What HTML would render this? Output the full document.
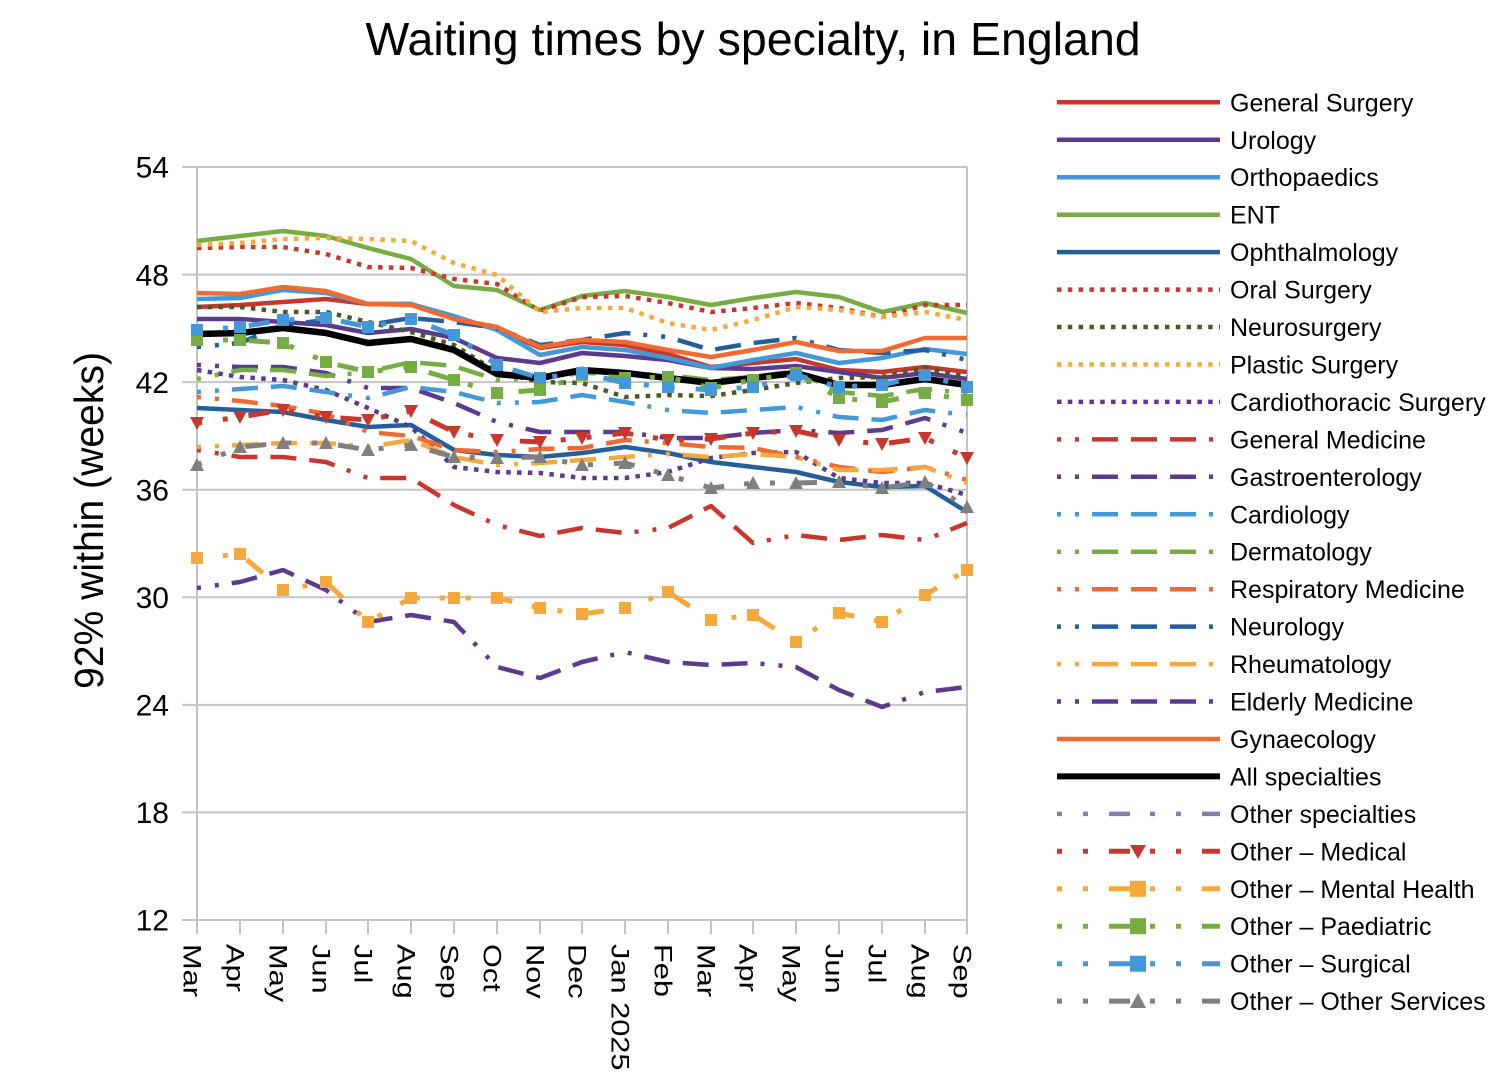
<!DOCTYPE html>
<html><head><meta charset="utf-8"><style>
html,body{margin:0;padding:0;background:#fff;}
svg{display:block;font-family:"Liberation Sans",Arial,sans-serif;}
</style></head><body>
<svg width="1508" height="1084" viewBox="0 0 1508 1084" xmlns="http://www.w3.org/2000/svg">
<rect width="1508" height="1084" fill="#fff"/>
<text x="753" y="55" font-size="46.5" text-anchor="middle" fill="#000">Waiting times by specialty, in England</text>

<!-- grid -->
<g stroke="#c4c4c4" stroke-width="2" fill="none">
<line x1="182" y1="167" x2="967" y2="167"/>
<line x1="182" y1="274.6" x2="967" y2="274.6"/>
<line x1="182" y1="382.1" x2="967" y2="382.1"/>
<line x1="182" y1="489.7" x2="967" y2="489.7"/>
<line x1="182" y1="597.3" x2="967" y2="597.3"/>
<line x1="182" y1="704.9" x2="967" y2="704.9"/>
<line x1="182" y1="812.4" x2="967" y2="812.4"/>
<line x1="182" y1="920" x2="967" y2="920"/>
<line x1="197" y1="167" x2="197" y2="934"/>
<line x1="967" y1="167" x2="967" y2="934"/>
<line x1="240" y1="920" x2="240" y2="934"/><line x1="283" y1="920" x2="283" y2="934"/>
<line x1="326" y1="920" x2="326" y2="934"/><line x1="368" y1="920" x2="368" y2="934"/>
<line x1="411" y1="920" x2="411" y2="934"/><line x1="454" y1="920" x2="454" y2="934"/>
<line x1="497" y1="920" x2="497" y2="934"/><line x1="540" y1="920" x2="540" y2="934"/>
<line x1="582" y1="920" x2="582" y2="934"/><line x1="625" y1="920" x2="625" y2="934"/>
<line x1="668" y1="920" x2="668" y2="934"/><line x1="711" y1="920" x2="711" y2="934"/>
<line x1="753" y1="920" x2="753" y2="934"/><line x1="796" y1="920" x2="796" y2="934"/>
<line x1="839" y1="920" x2="839" y2="934"/><line x1="882" y1="920" x2="882" y2="934"/>
<line x1="925" y1="920" x2="925" y2="934"/>
</g>

<!-- y labels -->
<g font-size="30" text-anchor="end" fill="#000">
<text x="169" y="177.7">54</text>
<text x="169" y="285.3">48</text>
<text x="169" y="392.8">42</text>
<text x="169" y="500.4">36</text>
<text x="169" y="608">30</text>
<text x="169" y="715.6">24</text>
<text x="169" y="823.1">18</text>
<text x="169" y="930.7">12</text>
</g>
<text transform="translate(103,689) rotate(-90)" font-size="41" textLength="337" lengthAdjust="spacingAndGlyphs" fill="#000">92% within (weeks)</text>

<!-- x labels -->
<g font-size="25" fill="#000">
<text transform="translate(183.5,944) rotate(90) scale(1.23,1)">Mar</text>
<text transform="translate(226.5,944) rotate(90) scale(1.23,1)">Apr</text>
<text transform="translate(269.5,944) rotate(90) scale(1.23,1)">May</text>
<text transform="translate(312.5,944) rotate(90) scale(1.23,1)">Jun</text>
<text transform="translate(354.5,944) rotate(90) scale(1.23,1)">Jul</text>
<text transform="translate(397.5,944) rotate(90) scale(1.23,1)">Aug</text>
<text transform="translate(440.5,944) rotate(90) scale(1.23,1)">Sep</text>
<text transform="translate(483.5,944) rotate(90) scale(1.23,1)">Oct</text>
<text transform="translate(526.5,944) rotate(90) scale(1.23,1)">Nov</text>
<text transform="translate(568.5,944) rotate(90) scale(1.23,1)">Dec</text>
<text transform="translate(611.5,944) rotate(90) scale(1.23,1)">Jan 2025</text>
<text transform="translate(654.5,944) rotate(90) scale(1.23,1)">Feb</text>
<text transform="translate(697.5,944) rotate(90) scale(1.23,1)">Mar</text>
<text transform="translate(739.5,944) rotate(90) scale(1.23,1)">Apr</text>
<text transform="translate(782.5,944) rotate(90) scale(1.23,1)">May</text>
<text transform="translate(825.5,944) rotate(90) scale(1.23,1)">Jun</text>
<text transform="translate(868.5,944) rotate(90) scale(1.23,1)">Jul</text>
<text transform="translate(911.5,944) rotate(90) scale(1.23,1)">Aug</text>
<text transform="translate(953.5,944) rotate(90) scale(1.23,1)">Sep</text>
</g>

<!-- series -->
<g fill="none" stroke-linejoin="round">
<!-- General Surgery -->
<polyline stroke="#c8372d" stroke-width="4.5" points="197,307 240,305 283,302 326,299 368,304 411,304 454,319 497,329 540,348 582,342 625,345 668,354 711,367 753,363 796,359 839,370 882,372 925,367 967,372"/>
<!-- Urology -->
<polyline stroke="#5c3a8e" stroke-width="4.5" points="197,319 240,319 283,322 326,325 368,333 411,329 454,338 497,358 540,363 582,353 625,356 668,360 711,368 753,369 796,366 839,372 882,378 925,373 967,379"/>
<!-- Orthopaedics -->
<polyline stroke="#4399d8" stroke-width="4.5" points="197,299 240,298 283,290 326,293 368,304 411,304 454,316 497,330 540,355 582,347 625,350 668,358 711,368 753,360 796,353 839,363 882,358 925,349 967,354"/>
<!-- ENT -->
<polyline stroke="#76ac41" stroke-width="4.5" points="197,241 240,236 283,231 326,236 368,248 411,259 454,286 497,290 540,310 582,296 625,291 668,297 711,305 753,298 796,292 839,297 882,312 925,303 967,313"/>
<!-- Ophthalmology -->
<polyline stroke="#245e9b" stroke-width="4.5" points="197,408 240,410 283,412 326,420 368,427 411,425 454,450 497,455 540,457 582,453 625,447 668,453 711,462 753,467 796,472 839,482 882,487 925,486 967,512"/>
<!-- Oral Surgery -->
<polyline stroke="#c8372d" stroke-width="4.5" stroke-dasharray="4.5 6.3" points="197,248 240,247 283,247 326,254 368,267 411,268 454,279 497,284 540,311 582,297 625,296 668,303 711,312 753,308 796,303 839,308 882,317 925,305 967,305"/>
<!-- Neurosurgery -->
<polyline stroke="#4b5a22" stroke-width="4.5" stroke-dasharray="4.5 6.3" points="197,307 240,307 283,312 326,312 368,322 411,332 454,345 497,372 540,382 582,383 625,397 668,395 711,396 753,390 796,383 839,378 882,377 925,368 967,377"/>
<!-- Plastic Surgery -->
<polyline stroke="#f5a83b" stroke-width="4.5" stroke-dasharray="4.5 6.3" points="197,245 240,243 283,239 326,238 368,239 411,241 454,263 497,275 540,312 582,308 625,308 668,323 711,330 753,320 796,307 839,310 882,317 925,312 967,320"/>
<!-- Cardiothoracic -->
<polyline stroke="#5c3a8e" stroke-width="4.5" stroke-dasharray="4.5 6.3" points="197,370 240,377 283,380 326,390 368,408 411,427 454,467 497,472 540,473 582,478 625,478 668,472 711,458 753,453 796,452 839,478 882,483 925,483 967,495"/>
<!-- General Medicine -->
<polyline stroke="#c8372d" stroke-width="4.5" stroke-dasharray="4 14 4 13 26 13 26 13 26 13" points="197,450 240,457 283,457 326,462 368,478 411,478 454,505 497,525 540,536 582,528 625,533 668,528 711,506 753,543 796,535 839,540 882,535 925,540 967,523"/>
<!-- Gastroenterology -->
<polyline stroke="#5c3a8e" stroke-width="4.5" stroke-dasharray="4 14 4 13 26 13 26 13 26 13" points="197,365 240,367 283,367 326,373 368,388 411,388 454,403 497,422 540,432 582,432 625,432 668,438 711,438 753,433 796,430 839,433 882,430 925,418 967,433"/>
<!-- Cardiology -->
<polyline stroke="#4399d8" stroke-width="4.5" stroke-dasharray="4 14 4 13 26 13 26 13 26 13" points="197,392 240,389 283,386 326,392 368,398 411,387 454,392 497,403 540,402 582,395 625,402 668,410 711,413 753,410 796,407 839,417 882,420 925,410 967,415"/>
<!-- Dermatology -->
<polyline stroke="#76ac41" stroke-width="4.5" stroke-dasharray="4 14 4 13 26 13 26 13 26 13" points="197,379 240,370 283,370 326,376 368,372 411,362 454,366 497,380 540,378 582,373 625,374 668,375 711,380 753,377 796,371 839,392 882,396 925,389 967,393"/>
<!-- Respiratory -->
<polyline stroke="#ee6a34" stroke-width="4.5" stroke-dasharray="4 14 4 13 26 13 26 13 26 13" points="197,397 240,401 283,406 326,414 368,432 411,436 454,450 497,452 540,449 582,448 625,440 668,443 711,447 753,448 796,457 839,467 882,472 925,467 967,480"/>
<!-- Neurology -->
<polyline stroke="#245e9b" stroke-width="4.5" stroke-dasharray="4 14 4 13 26 13 26 13 26 13" points="197,347 240,343 283,325 326,320 368,325 411,318 454,322 497,328 540,345 582,340 625,333 668,337 711,350 753,343 796,338 839,350 882,353 925,350 967,360"/>
<!-- Rheumatology -->
<polyline stroke="#f5a83b" stroke-width="4.5" stroke-dasharray="4 14 4 13 26 13 26 13 26 13" points="197,447 240,445 283,443 326,443 368,447 411,440 454,457 497,465 540,463 582,460 625,457 668,454 711,457 753,454 796,457 839,470 882,470 925,467 967,483"/>
<!-- Elderly -->
<polyline stroke="#5c3a8e" stroke-width="4.5" stroke-dasharray="4 14 4 13 26 13 26 13 26 13" points="197,588 240,582 283,570 326,590 368,622 411,615 454,622 497,667 540,678 582,662 625,652 668,662 711,665 753,663 796,667 839,690 882,707 925,692 967,687"/>
<!-- Gynaecology -->
<polyline stroke="#f06a32" stroke-width="4.5" points="197,293 240,294 283,287 326,291 368,304 411,305 454,319 497,327 540,347 582,340 625,342 668,350 711,357 753,350 796,342 839,351 882,351 925,338 967,338"/>
<!-- All specialties -->
<polyline stroke="#000" stroke-width="6.5" points="197,334 240,333 283,328 326,333 368,343 411,339 454,350 497,374 540,378 582,370 625,373 668,378 711,383 753,378 796,373 839,385 882,385 925,379 967,385"/>
<!-- Other Medical -->
<polyline stroke="#c8372d" stroke-width="5" stroke-dasharray="5 21 5 21 21 20" points="197,423 240,417 283,410 326,417 368,420 411,411 454,432 497,440 540,442 582,438 625,433 668,440 711,439 753,433 796,431 839,440 882,444 925,438 967,458"/>
<!-- Other Mental Health -->
<polyline stroke="#f5a83b" stroke-width="5" stroke-dasharray="5 21 5 21 21 20" points="197,558 240,554 283,590 326,582 368,622 411,598 454,598 497,598 540,608 582,614 625,608 668,592 711,620 753,615 796,642 839,613 882,622 925,595 967,570"/>
<!-- Other Paediatric -->
<polyline stroke="#76ac41" stroke-width="5" stroke-dasharray="5 21 5 21 21 20" points="197,340 240,340 283,343 326,362 368,372 411,367 454,380 497,393 540,390 582,375 625,378 668,377 711,388 753,380 796,373 839,398 882,402 925,393 967,400"/>
<!-- Other Surgical -->
<polyline stroke="#4399d8" stroke-width="5" stroke-dasharray="5 21 5 21 21 20" points="197,330 240,327 283,320 326,318 368,327 411,319 454,335 497,365 540,378 582,373 625,383 668,387 711,390 753,387 796,375 839,387 882,385 925,375 967,387"/>
<!-- Other Services -->
<polyline stroke="#7f7f7f" stroke-width="5" stroke-dasharray="5 21 5 21 21 20" points="197,465 240,447 283,443 326,443 368,450 411,445 454,457 497,458 540,457 582,465 625,463 668,475 711,488 753,483 796,483 839,482 882,488 925,482 967,507"/>
</g>

<!-- markers -->
<g fill="#c8372d">
<polygon points="190,417 204,417 197,430"/><polygon points="233,411 247,411 240,424"/><polygon points="276,404 290,404 283,417"/><polygon points="319,411 333,411 326,424"/><polygon points="361,414 375,414 368,427"/><polygon points="404,405 418,405 411,418"/><polygon points="447,426 461,426 454,439"/><polygon points="490,434 504,434 497,447"/><polygon points="533,436 547,436 540,449"/><polygon points="575,432 589,432 582,445"/><polygon points="618,427 632,427 625,440"/><polygon points="661,434 675,434 668,447"/><polygon points="704,433 718,433 711,446"/><polygon points="746,427 760,427 753,440"/><polygon points="789,425 803,425 796,438"/><polygon points="832,434 846,434 839,447"/><polygon points="875,438 889,438 882,451"/><polygon points="918,432 932,432 925,445"/><polygon points="960,452 974,452 967,465"/>
</g>
<g fill="#f5a83b">
<rect x="191" y="552" width="12" height="12"/><rect x="234" y="548" width="12" height="12"/><rect x="277" y="584" width="12" height="12"/><rect x="320" y="576" width="12" height="12"/><rect x="362" y="616" width="12" height="12"/><rect x="405" y="592" width="12" height="12"/><rect x="448" y="592" width="12" height="12"/><rect x="491" y="592" width="12" height="12"/><rect x="534" y="602" width="12" height="12"/><rect x="576" y="608" width="12" height="12"/><rect x="619" y="602" width="12" height="12"/><rect x="662" y="586" width="12" height="12"/><rect x="705" y="614" width="12" height="12"/><rect x="747" y="609" width="12" height="12"/><rect x="790" y="636" width="12" height="12"/><rect x="833" y="607" width="12" height="12"/><rect x="876" y="616" width="12" height="12"/><rect x="919" y="589" width="12" height="12"/><rect x="961" y="564" width="12" height="12"/>
</g>
<g fill="#76ac41">
<rect x="191" y="334" width="12" height="12"/><rect x="234" y="334" width="12" height="12"/><rect x="277" y="337" width="12" height="12"/><rect x="320" y="356" width="12" height="12"/><rect x="362" y="366" width="12" height="12"/><rect x="405" y="361" width="12" height="12"/><rect x="448" y="374" width="12" height="12"/><rect x="491" y="387" width="12" height="12"/><rect x="534" y="384" width="12" height="12"/><rect x="576" y="369" width="12" height="12"/><rect x="619" y="372" width="12" height="12"/><rect x="662" y="371" width="12" height="12"/><rect x="705" y="382" width="12" height="12"/><rect x="747" y="374" width="12" height="12"/><rect x="790" y="367" width="12" height="12"/><rect x="833" y="392" width="12" height="12"/><rect x="876" y="396" width="12" height="12"/><rect x="919" y="387" width="12" height="12"/><rect x="961" y="394" width="12" height="12"/>
</g>
<g fill="#4399d8">
<rect x="191" y="324" width="12" height="12"/><rect x="234" y="321" width="12" height="12"/><rect x="277" y="314" width="12" height="12"/><rect x="320" y="312" width="12" height="12"/><rect x="362" y="321" width="12" height="12"/><rect x="405" y="313" width="12" height="12"/><rect x="448" y="329" width="12" height="12"/><rect x="491" y="359" width="12" height="12"/><rect x="534" y="372" width="12" height="12"/><rect x="576" y="367" width="12" height="12"/><rect x="619" y="377" width="12" height="12"/><rect x="662" y="381" width="12" height="12"/><rect x="705" y="384" width="12" height="12"/><rect x="747" y="381" width="12" height="12"/><rect x="790" y="369" width="12" height="12"/><rect x="833" y="381" width="12" height="12"/><rect x="876" y="379" width="12" height="12"/><rect x="919" y="369" width="12" height="12"/><rect x="961" y="381" width="12" height="12"/>
</g>
<g fill="#7f7f7f">
<polygon points="190,471 204,471 197,458"/><polygon points="233,453 247,453 240,440"/><polygon points="276,449 290,449 283,436"/><polygon points="319,449 333,449 326,436"/><polygon points="361,456 375,456 368,443"/><polygon points="404,451 418,451 411,438"/><polygon points="447,463 461,463 454,450"/><polygon points="490,464 504,464 497,451"/><polygon points="533,463 547,463 540,450"/><polygon points="575,471 589,471 582,458"/><polygon points="618,469 632,469 625,456"/><polygon points="661,481 675,481 668,468"/><polygon points="704,494 718,494 711,481"/><polygon points="746,489 760,489 753,476"/><polygon points="789,489 803,489 796,476"/><polygon points="832,488 846,488 839,475"/><polygon points="875,494 889,494 882,481"/><polygon points="918,488 932,488 925,475"/><polygon points="960,513 974,513 967,500"/>
</g>

<!-- legend -->
<g fill="none">
<line x1="1057" y1="102.3" x2="1220" y2="102.3" stroke="#c8372d" stroke-width="4.5"/>
<line x1="1057" y1="139.8" x2="1220" y2="139.8" stroke="#5c3a8e" stroke-width="4.5"/>
<line x1="1057" y1="177.2" x2="1220" y2="177.2" stroke="#4399d8" stroke-width="4.5"/>
<line x1="1057" y1="214.7" x2="1220" y2="214.7" stroke="#76ac41" stroke-width="4.5"/>
<line x1="1057" y1="252.1" x2="1220" y2="252.1" stroke="#245e9b" stroke-width="4.5"/>
<line x1="1057" y1="289.6" x2="1220" y2="289.6" stroke="#c8372d" stroke-width="4.5" stroke-dasharray="4.5 6.3"/>
<line x1="1057" y1="327" x2="1220" y2="327" stroke="#4b5a22" stroke-width="4.5" stroke-dasharray="4.5 6.3"/>
<line x1="1057" y1="364.5" x2="1220" y2="364.5" stroke="#f5a83b" stroke-width="4.5" stroke-dasharray="4.5 6.3"/>
<line x1="1057" y1="401.9" x2="1220" y2="401.9" stroke="#5c3a8e" stroke-width="4.5" stroke-dasharray="4.5 6.3"/>
<line x1="1057" y1="439.4" x2="1220" y2="439.4" stroke="#c8372d" stroke-width="4.5" stroke-dasharray="4 14 4 13 26 13 26 13 26 13"/>
<line x1="1057" y1="476.8" x2="1220" y2="476.8" stroke="#5c3a8e" stroke-width="4.5" stroke-dasharray="4 14 4 13 26 13 26 13 26 13"/>
<line x1="1057" y1="514.3" x2="1220" y2="514.3" stroke="#4399d8" stroke-width="4.5" stroke-dasharray="4 14 4 13 26 13 26 13 26 13"/>
<line x1="1057" y1="551.7" x2="1220" y2="551.7" stroke="#76ac41" stroke-width="4.5" stroke-dasharray="4 14 4 13 26 13 26 13 26 13"/>
<line x1="1057" y1="589.2" x2="1220" y2="589.2" stroke="#ee6a34" stroke-width="4.5" stroke-dasharray="4 14 4 13 26 13 26 13 26 13"/>
<line x1="1057" y1="626.6" x2="1220" y2="626.6" stroke="#245e9b" stroke-width="4.5" stroke-dasharray="4 14 4 13 26 13 26 13 26 13"/>
<line x1="1057" y1="664.1" x2="1220" y2="664.1" stroke="#f5a83b" stroke-width="4.5" stroke-dasharray="4 14 4 13 26 13 26 13 26 13"/>
<line x1="1057" y1="701.5" x2="1220" y2="701.5" stroke="#5c3a8e" stroke-width="4.5" stroke-dasharray="4 14 4 13 26 13 26 13 26 13"/>
<line x1="1057" y1="739" x2="1220" y2="739" stroke="#f06a32" stroke-width="4.5"/>
<line x1="1057" y1="776.4" x2="1220" y2="776.4" stroke="#000" stroke-width="6"/>
<line x1="1057" y1="813.9" x2="1220" y2="813.9" stroke="#7f7fb0" stroke-width="4.5" stroke-dasharray="5 21 5 21 21 20"/>
<line x1="1057" y1="851.3" x2="1220" y2="851.3" stroke="#c8372d" stroke-width="5" stroke-dasharray="5 21 5 21 21 20"/>
<line x1="1057" y1="888.8" x2="1220" y2="888.8" stroke="#f5a83b" stroke-width="5" stroke-dasharray="5 21 5 21 21 20"/>
<line x1="1057" y1="926.2" x2="1220" y2="926.2" stroke="#76ac41" stroke-width="5" stroke-dasharray="5 21 5 21 21 20"/>
<line x1="1057" y1="963.7" x2="1220" y2="963.7" stroke="#4399d8" stroke-width="5" stroke-dasharray="5 21 5 21 21 20"/>
<line x1="1057" y1="1001.1" x2="1220" y2="1001.1" stroke="#7f7f7f" stroke-width="5" stroke-dasharray="5 21 5 21 21 20"/>
</g>
<polygon points="1130,845 1146,845 1138,859" fill="#c8372d"/>
<rect x="1130" y="880.8" width="16" height="16" fill="#f5a83b"/>
<rect x="1130" y="918.2" width="16" height="16" fill="#76ac41"/>
<rect x="1130" y="955.7" width="16" height="16" fill="#4399d8"/>
<polygon points="1130,1008 1146,1008 1138,993" fill="#7f7f7f"/>

<g font-size="25" fill="#000">
<text x="1230" y="111.3">General Surgery</text>
<text x="1230" y="148.8">Urology</text>
<text x="1230" y="186.2">Orthopaedics</text>
<text x="1230" y="223.7">ENT</text>
<text x="1230" y="261.1">Ophthalmology</text>
<text x="1230" y="298.6">Oral Surgery</text>
<text x="1230" y="336">Neurosurgery</text>
<text x="1230" y="373.5">Plastic Surgery</text>
<text x="1230" y="410.9">Cardiothoracic Surgery</text>
<text x="1230" y="448.4">General Medicine</text>
<text x="1230" y="485.8">Gastroenterology</text>
<text x="1230" y="523.3">Cardiology</text>
<text x="1230" y="560.7">Dermatology</text>
<text x="1230" y="598.2">Respiratory Medicine</text>
<text x="1230" y="635.6">Neurology</text>
<text x="1230" y="673.1">Rheumatology</text>
<text x="1230" y="710.5">Elderly Medicine</text>
<text x="1230" y="748">Gynaecology</text>
<text x="1230" y="785.4">All specialties</text>
<text x="1230" y="822.9">Other specialties</text>
<text x="1230" y="860.3">Other – Medical</text>
<text x="1230" y="897.8">Other – Mental Health</text>
<text x="1230" y="935.2">Other – Paediatric</text>
<text x="1230" y="972.7">Other – Surgical</text>
<text x="1230" y="1010.1">Other – Other Services</text>
</g>
</svg>
</body></html>
